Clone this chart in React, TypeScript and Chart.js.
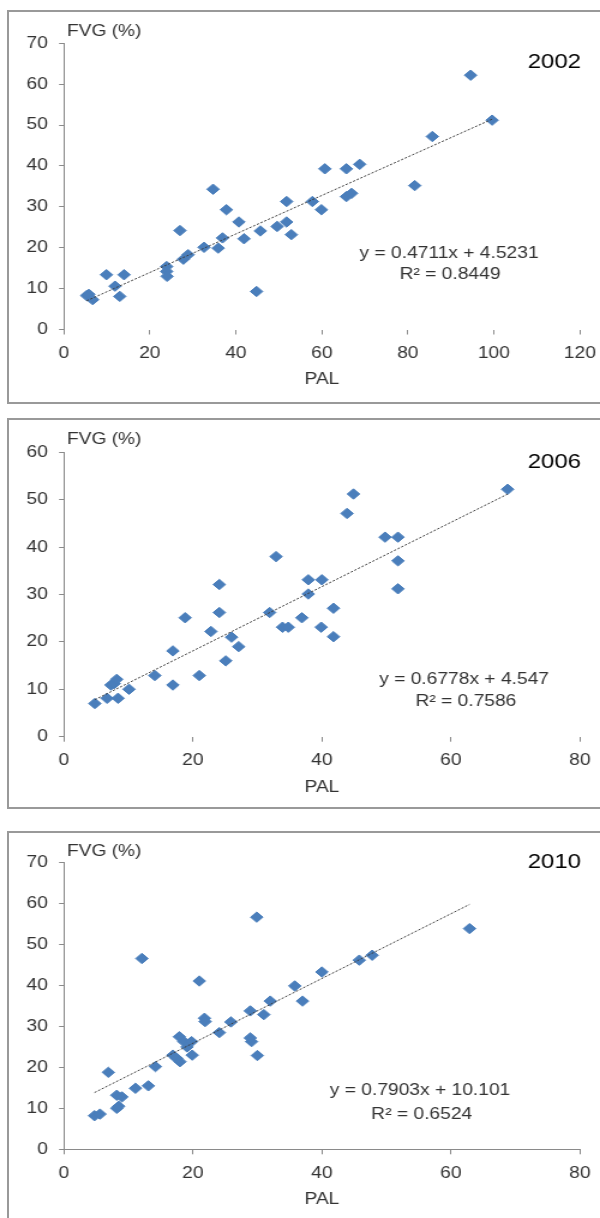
import React, { useEffect, useRef } from "react";
import { Chart, registerables } from "chart.js";

Chart.register(...registerables);

// ---- data ----
const pal2002 = [5.3, 5.8, 6.7, 9.9, 11.9, 13.0, 14.0, 23.9, 23.9, 24.0, 27.0, 27.8, 28.9, 32.6, 34.7, 35.9, 36.9, 37.8, 40.7, 41.9, 44.8, 45.7, 49.6, 51.8, 51.8, 52.9, 57.8, 59.9, 60.7, 65.7, 68.8, 65.7, 66.9, 81.6, 85.7, 94.6, 99.6];
const fvg2002 = [8.3, 8.6, 7.3, 13.4, 10.6, 8.1, 13.4, 15.4, 14.2, 13.0, 24.2, 17.2, 18.3, 20.1, 34.3, 19.9, 22.4, 29.3, 26.3, 22.2, 9.3, 24.1, 25.2, 26.3, 31.3, 23.2, 31.3, 29.3, 39.3, 39.3, 40.4, 32.5, 33.3, 35.2, 47.2, 62.2, 51.2];

const pal2006 = [4.8, 6.7, 7.3, 7.8, 8.2, 8.4, 10.1, 14.1, 16.9, 16.9, 18.8, 21.0, 22.8, 24.1, 24.1, 25.1, 26.0, 27.1, 31.9, 32.9, 33.9, 34.8, 36.9, 37.9, 37.9, 40.0, 39.9, 41.8, 41.8, 43.9, 44.9, 49.8, 51.8, 51.8, 51.8, 68.8];
const fvg2006 = [7.0, 8.1, 10.9, 11.2, 12.1, 8.1, 10.0, 12.9, 18.1, 10.9, 25.1, 12.9, 22.2, 32.1, 26.2, 16.0, 21.0, 19.0, 26.2, 38.0, 23.1, 23.1, 25.1, 33.1, 30.1, 33.1, 23.1, 27.1, 21.1, 47.1, 51.2, 42.1, 42.1, 37.1, 31.2, 52.2];

const pal2010 = [4.75, 5.6, 6.9, 8.2, 8.5, 8.2, 9.0, 11.1, 13.1, 12.1, 14.2, 16.9, 17.5, 18.0, 17.9, 18.6, 19.1, 19.8, 19.9, 21.0, 21.8, 21.9, 24.1, 25.9, 28.9, 29.1, 28.9, 29.9, 30.0, 31.0, 32.0, 35.8, 37.0, 40.0, 45.8, 47.8, 62.9];
const fvg2010 = [8.2, 8.6, 18.8, 10.0, 10.5, 13.2, 12.8, 14.9, 15.5, 46.6, 20.2, 23.0, 22.2, 21.4, 27.5, 26.3, 25.0, 26.3, 23.0, 41.1, 32.0, 31.2, 28.5, 31.1, 33.8, 26.3, 27.2, 56.7, 22.9, 32.9, 36.2, 39.9, 36.2, 43.3, 46.2, 47.4, 53.9];

// trend line coefficients (as printed on the figure)
const fit2002 = [0.4711, 4.5231];
const fit2006 = [0.6778, 4.547];
const fit2010 = [0.7903, 10.101];

const years = ["2002", "2006", "2010"];
const equations = ["y = 0.4711x + 4.5231", "y = 0.6778x + 4.547", "y = 0.7903x + 10.101"];
const rSquared = ["R² = 0.8449", "R² = 0.7586", "R² = 0.6524"];
const xMaxes = [120, 80, 80];
const yMaxes = [70, 60, 70];
const xAxisTitle = "PAL";
const yAxisTitle = "FVG (%)";

// ---- layout (the original figure is stretched horizontally) ----
const SX = 1.2;
const CW = 520; // canvas drawing width, shown at 624px (clipped at 600)
const CA_RIGHT = 483.2;
const FONT = '"Liberation Sans", Arial, sans-serif';
const MARK = "#4A7EBB";
const AXIS = "#8a8a8a";
const TXT = "#333333";

type Cfg = {
  pal: number[];
  fvg: number[];
  fit: number[];
  idx: number;
  top: number;
  h: number;
  caTop: number;
  caBottom: number;
  titlePad: number;
  fvgDy: number;
  yearDy: number;
  eq: [number, number, number, number];
  xBorder: boolean;
};

const panels: Cfg[] = [
  { pal: pal2002, fvg: fvg2002, fit: fit2002, idx: 0, top: 0, h: 405, caTop: 43.3, caBottom: 329.5, titlePad: 15.4, fvgDy: 11.6, yearDy: 19.4, eq: [374.2, 253.3, 375, 275], xBorder: false },
  { pal: pal2006, fvg: fvg2006, fit: fit2006, idx: 1, top: 405, h: 412, caTop: 47.3, caBottom: 331.7, titlePad: 20.2, fvgDy: 12.3, yearDy: 10.4, eq: [386.7, 274.3, 388.2, 296.7], xBorder: false },
  { pal: pal2010, fvg: fvg2010, fit: fit2010, idx: 2, top: 817, h: 401, caTop: 45.7, caBottom: 332.3, titlePad: 8.6, fvgDy: 11, yearDy: 0, eq: [350, 274, 351.4, 297.3], xBorder: true },
];

const frames = [
  { top: 10, height: 394 },
  { top: 418, height: 391 },
  { top: 831, height: 400 },
];

function Panel({ cfg }: { cfg: Cfg }) {
  const ref = useRef<HTMLCanvasElement | null>(null);
  useEffect(() => {
    if (!ref.current) return;
    const i = cfg.idx;
    const pts = cfg.pal.map((x, k) => ({ x, y: cfg.fvg[k] }));
    const xmin = Math.min(...cfg.pal);
    const xmax = Math.max(...cfg.pal);
    const trend = [
      { x: xmin, y: cfg.fit[0] * xmin + cfg.fit[1] },
      { x: xmax, y: cfg.fit[0] * xmax + cfg.fit[1] },
    ];
    const textPlugin = {
      id: "panelTexts",
      afterDraw(chart: any) {
        const { ctx, chartArea: a } = chart;
        ctx.save();
        ctx.textBaseline = "middle";
        ctx.font = `16px ${FONT}`;
        ctx.fillStyle = TXT;
        ctx.textAlign = "left";
        ctx.fillText(yAxisTitle, a.left + 2.5, a.top - cfg.fvgDy);
        ctx.font = `20px ${FONT}`;
        ctx.fillStyle = "#000000";
        ctx.textAlign = "right";
        ctx.fillText(years[i], a.right + 1, a.top + cfg.yearDy);
        ctx.font = `16px ${FONT}`;
        ctx.fillStyle = TXT;
        ctx.textAlign = "center";
        ctx.fillText(equations[i], cfg.eq[0], cfg.eq[1]);
        ctx.fillText(rSquared[i], cfg.eq[2], cfg.eq[3]);
        ctx.restore();
      },
    };
    const chart = new Chart(ref.current, {
      type: "scatter",
      data: {
        datasets: [
          {
            type: "line",
            data: trend,
            borderColor: "#3c3c3c",
            borderWidth: 1,
            borderDash: [2, 1.5],
            pointRadius: 0,
            fill: false,
          } as any,
          {
            data: pts,
            pointStyle: "rectRot",
            pointRadius: 5.2,
            backgroundColor: MARK,
            borderColor: MARK,
            borderWidth: 1,
          },
        ],
      },
      options: {
        responsive: false,
        devicePixelRatio: 1,
        animation: false,
        layout: { padding: { left: 0, right: CW - CA_RIGHT, top: cfg.caTop, bottom: 0 } },
        plugins: { legend: { display: false }, tooltip: { enabled: false } },
        scales: {
          x: {
            type: "linear",
            min: 0,
            max: xMaxes[i],
            afterFit: (s: any) => {
              s.height = cfg.h - cfg.caBottom;
            },
            ticks: { stepSize: 20, color: TXT, font: { family: FONT, size: 16 }, padding: 9.4, maxRotation: 0, autoSkip: false },
            grid: { display: true, drawOnChartArea: false, drawTicks: true, tickLength: 5, tickColor: AXIS },
            border: { display: cfg.xBorder, color: AXIS, width: 1 },
            title: { display: true, text: xAxisTitle, color: TXT, font: { family: FONT, size: 16 }, padding: { top: 0, bottom: cfg.titlePad } },
          },
          y: {
            type: "linear",
            min: 0,
            max: yMaxes[i],
            afterFit: (s: any) => {
              s.width = 53.2;
            },
            ticks: { stepSize: 10, color: TXT, font: { family: FONT, size: 16 }, padding: 9.4 },
            grid: { display: true, drawOnChartArea: false, drawTicks: true, tickLength: 4, tickColor: AXIS },
            border: { display: true, color: AXIS, width: 1 },
          },
        },
      },
      plugins: [textPlugin],
    } as any);
    return () => chart.destroy();
  }, [cfg]);
  return (
    <canvas
      ref={ref}
      width={CW}
      height={cfg.h}
      style={{ position: "absolute", left: 0, top: cfg.top, width: CW * SX, height: cfg.h }}
    />
  );
}

export default function App() {
  return (
    <div style={{ position: "relative", width: 600, height: 1218, overflow: "hidden", background: "#fff" }}>
      <style>{"body{margin:0}"}</style>
      {frames.map((f, k) => (
        <div
          key={k}
          style={{
            position: "absolute",
            left: 7,
            top: f.top,
            width: 700,
            height: f.height,
            border: "2px solid #999",
            boxSizing: "border-box",
          }}
        />
      ))}
      {panels.map((p) => (
        <Panel key={p.idx} cfg={p} />
      ))}
    </div>
  );
}
